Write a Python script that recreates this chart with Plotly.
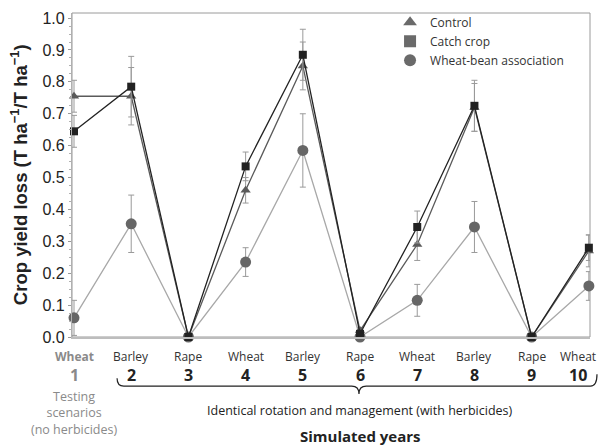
import plotly.graph_objects as go

years = [1, 2, 3, 4, 5, 6, 7, 8, 9, 10]
crops = ["Wheat", "Barley", "Rape", "Wheat", "Barley", "Rape", "Wheat", "Barley", "Rape", "Wheat"]

control = [0.755, 0.755, 0.0, 0.46, 0.85, 0.02, 0.29, 0.72, 0.0, 0.27]
control_err = [0.05, 0.09, 0.0, 0.04, 0.075, 0.01, 0.05, 0.075, 0.0, 0.05]
catch_crop = [0.645, 0.785, 0.0, 0.535, 0.885, 0.01, 0.345, 0.725, 0.0, 0.28]
catch_err = [0.05, 0.095, 0.0, 0.045, 0.08, 0.01, 0.05, 0.08, 0.0, 0.04]
wheat_bean = [0.06, 0.355, 0.0, 0.235, 0.585, 0.0, 0.115, 0.345, 0.0, 0.16]
wheat_bean_err = [0.055, 0.09, 0.0, 0.045, 0.115, 0.0, 0.05, 0.08, 0.0, 0.045]

y_ticks = [0.0, 0.1, 0.2, 0.3, 0.4, 0.5, 0.6, 0.7, 0.8, 0.9, 1.0]

ERR = dict(type="data", thickness=1, width=3, color="#9a9a9a")

fig = go.Figure()

fig.add_trace(go.Scatter(
    x=years, y=wheat_bean, mode="lines+markers", showlegend=False,
    line=dict(color="#a8a8a8", width=1.3),
    marker=dict(symbol="circle", size=11, color="#666666"),
    error_y=dict(array=wheat_bean_err, **ERR), cliponaxis=False))
fig.add_trace(go.Scatter(
    x=years, y=control, mode="lines+markers", showlegend=False,
    line=dict(color="#5a5a5a", width=1.3),
    marker=dict(symbol="triangle-up", size=9, color="#5a5a5a"),
    error_y=dict(array=control_err, **ERR), cliponaxis=False))
fig.add_trace(go.Scatter(
    x=years, y=catch_crop, mode="lines+markers", showlegend=False,
    line=dict(color="#222222", width=1.3),
    marker=dict(symbol="square", size=8, color="#222222"),
    error_y=dict(array=catch_err, **ERR), cliponaxis=False))

# legend entries (markers only)
for name, sym, sz in [("Control", "triangle-up", 12), ("Catch crop", "square", 11),
                      ("Wheat-bean association", "circle", 12)]:
    fig.add_trace(go.Scatter(x=[None], y=[None], mode="markers", name=name,
                             marker=dict(symbol=sym, size=sz, color="#6a6a6a")))

annotations = []
for i, (yr, crop) in enumerate(zip(years, crops)):
    col = "#8a8a8a" if i == 0 else "#333333"
    shift = -11 if i == len(years) - 1 else 0
    annotations.append(dict(x=yr, y=0, xref="x", yref="paper", yshift=-19, xshift=shift,
                            text=("<b>%s</b>" % crop) if i == 0 else crop,
                            showarrow=False, xanchor="center", yanchor="middle",
                            font=dict(family="Open Sans", size=12, color=col)))
    annotations.append(dict(x=yr, y=0, xref="x", yref="paper", yshift=-38, xshift=shift,
                            text="<b>%d</b>" % yr, showarrow=False,
                            xanchor="center", yanchor="middle",
                            font=dict(family="Open Sans", size=16,
                                      color="#8a8a8a" if i == 0 else "#222222")))

annotations += [
    dict(x=1, y=0, xref="x", yref="paper", yshift=-76,
         text="Testing<br>scenarios<br>(no herbicides)", showarrow=False,
         xanchor="center", yanchor="middle", align="center",
         font=dict(family="Open Sans", size=12.5, color="#8a8a8a")),
    dict(x=6, y=0, xref="x", yref="paper", yshift=-73,
         text="Identical rotation and management (with herbicides)", showarrow=False,
         xanchor="center", yanchor="middle",
         font=dict(family="Open Sans", size=12.5, color="#222222")),
    dict(x=6, y=0, xref="x", yref="paper", yshift=-99,
         text="<b>Simulated years</b>", showarrow=False,
         xanchor="center", yanchor="middle",
         font=dict(family="Open Sans", size=15, color="#222222")),
    dict(x=-0.102, y=0.5, xref="paper", yref="paper", textangle=-90,
         text="<b>Crop yield loss (T ha<sup>\u22121</sup>/T ha<sup>\u22121</sup>)</b>",
         showarrow=False, xanchor="center", yanchor="middle",
         font=dict(family="Liberation Sans", size=18.5, color="#222222")),
]

# brace under years 2-10
brace = ("M 0.087,-0.1275 Q 0.087,-0.1517 0.100,-0.1517 L 0.540,-0.1517 "
         "Q 0.554,-0.1517 0.554,-0.176 Q 0.554,-0.1517 0.568,-0.1517 "
         "L 1.001,-0.1517 Q 1.0135,-0.1517 1.0135,-0.1153")

fig.update_layout(
    width=598, height=448,
    margin=dict(l=72, r=8, t=8, b=111),
    paper_bgcolor="white", plot_bgcolor="white",
    showlegend=True,
    legend=dict(x=0.614, y=1.016, xanchor="left", yanchor="top",
                bgcolor="rgba(0,0,0,0)", itemsizing="constant",
                tracegroupgap=0,
                font=dict(family="Open Sans", size=12, color="#333333")),
    annotations=annotations,
    shapes=[dict(type="path", xref="paper", yref="paper", path=brace,
                 line=dict(color="#222222", width=1.2)),
            dict(type="rect", xref="paper", yref="paper", x0=0, x1=1, y0=0, y1=1,
                 line=dict(color="#9a9a9a", width=1), layer="below")],
    xaxis=dict(range=[0.965, 10.02], showticklabels=False, ticks="",
               showgrid=False, zeroline=False, showline=True,
               linecolor="#bdbdbd", linewidth=1.5),
    yaxis=dict(range=[0, 1.016], tickvals=y_ticks, ticktext=["%.1f" % v for v in y_ticks],
               ticks="outside", ticklen=3, tickcolor="#9a9a9a",
               minor=dict(dtick=0.025, ticks="outside", ticklen=2, tickcolor="#b0b0b0"),
               showgrid=False, zeroline=False, showline=True,
               linecolor="#b0b0b0", linewidth=1.2,
               tickfont=dict(family="Liberation Sans", size=16, color="#222222")),
)

fig.write_html("out.html", config={"displayModeBar": False},
               post_script="document.body.style.margin='0';")
